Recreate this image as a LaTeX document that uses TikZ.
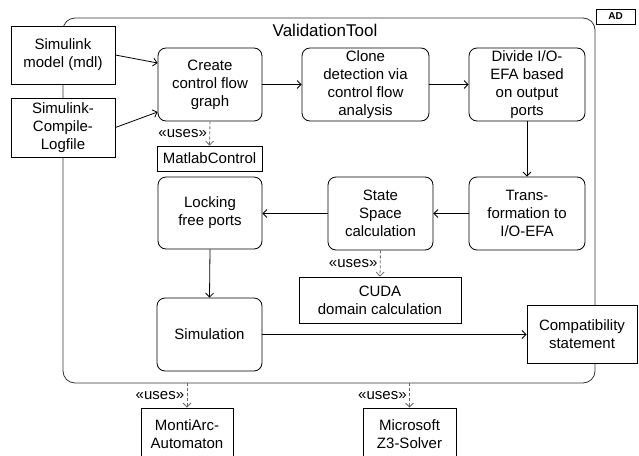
\documentclass[tikz,border=0pt]{standalone}
\usepackage{fontspec}
\setmainfont{Liberation Sans}
\usetikzlibrary{arrows.meta,calc}
\begin{document}
\begin{tikzpicture}[x=1pt,y=-1pt,
  every node/.style={font=\fontsize{15}{18}\selectfont, align=center, inner sep=0pt},
  act/.style={draw, fill=white, rounded corners=8pt, line width=0.8pt},
  obj/.style={draw, fill=white, line width=0.8pt},
  flow/.style={-{Straight Barb[length=4pt,width=8pt]}, line width=0.8pt},
  usesarrow/.style={-{Straight Barb[length=4pt,width=8pt]}, dash pattern=on 3pt off 2pt, draw=black!60, line width=0.8pt},
  useslabel/.style={font=\fontsize{15}{17}\selectfont, text=black, left, inner sep=2.5pt}
]
\useasboundingbox (0,0) rectangle (639,455);

% container
\node[draw=black!80, line width=0.8pt, rounded corners=12pt, minimum width=532pt, minimum height=365pt] (tool) at (329,200.5) {};
\node[font=\fontsize{17}{20}\selectfont] (title) at (325,30) {ValidationTool};

% AD tag
\node[draw, line width=0.8pt, minimum width=39pt, minimum height=15pt, font=\fontsize{10}{12}\selectfont\bfseries] (ad) at (615.5,16.5) {AD};

% objects
\node[obj, minimum width=104pt, minimum height=58pt] (model) at (63,55) {Simulink\\model (mdl)};
\node[obj, minimum width=104pt, minimum height=59pt] (logfile) at (63,127.5) {Simulink-\\Compile-\\Logfile};
\node[obj, line width=1pt, minimum width=110pt, minimum height=58pt] (compat) at (582,334) {Compatibility\\statement};
\node[obj, minimum width=105pt, minimum height=25pt] (matlab) at (209.5,158.5) {MatlabControl};
\node[obj, minimum width=162pt, minimum height=46pt] (cuda) at (380,300) {CUDA\\domain calculation};
\node[obj, minimum width=92pt, minimum height=52pt] (montiarc) at (187,434) {MontiArc-\\Automaton};
\node[obj, minimum width=93pt, minimum height=52pt] (microsoft) at (409.5,434) {Microsoft\\Z3-Solver};

% actions
\node[act, minimum width=104pt, minimum height=73pt] (cfg) at (210,84.5) {Create\\control flow\\graph};
\node[act, minimum width=127pt, minimum height=73pt] (clone) at (365.5,84.5) {Clone\\detection via\\control flow\\analysis};
\node[act, minimum width=116pt, minimum height=73pt] (divide) at (527,84.5) {Divide I/O-\\EFA based\\on output\\ports};
\node[act, minimum width=116pt, minimum height=73pt] (trans) at (527,213.5) {Trans-\\formation to\\I/O-EFA};
\node[act, minimum width=105pt, minimum height=73pt] (state) at (380.5,213.5) {State\\Space\\calculation};
\node[act, minimum width=104pt, minimum height=72pt] (locking) at (210,213) {Locking\\free ports};
\node[act, minimum width=105pt, minimum height=73pt] (sim) at (209.5,334.5) {Simulation};

% control flow
\draw[flow] (model.east) -- ($(cfg.west)+(0,-21.5)$);
\draw[flow] (logfile.east) -- ($(cfg.west)+(0,27.5)$);
\draw[flow] (cfg) -- (clone);
\draw[flow] (clone) -- (divide);
\draw[flow] (divide) -- (trans);
\draw[flow] (trans) -- (state);
\draw[flow] (state.west) -- (locking.east|-state.west);
\draw[flow] (locking.south) -- (sim.north);
\draw[flow] (sim.east) -- (compat.west|-sim.east);

% uses dependencies
\draw[usesarrow] (cfg.south) -- node[useslabel]{«uses»} (matlab.north);
\draw[usesarrow] (state.south) -- node[useslabel]{«uses»} (cuda.north);
\draw[usesarrow] (montiarc.north|-tool.south) -- node[useslabel]{«uses»} (montiarc.north);
\draw[usesarrow] (microsoft.north|-tool.south) -- node[useslabel]{«uses»} (microsoft.north);
\end{tikzpicture}
\end{document}
